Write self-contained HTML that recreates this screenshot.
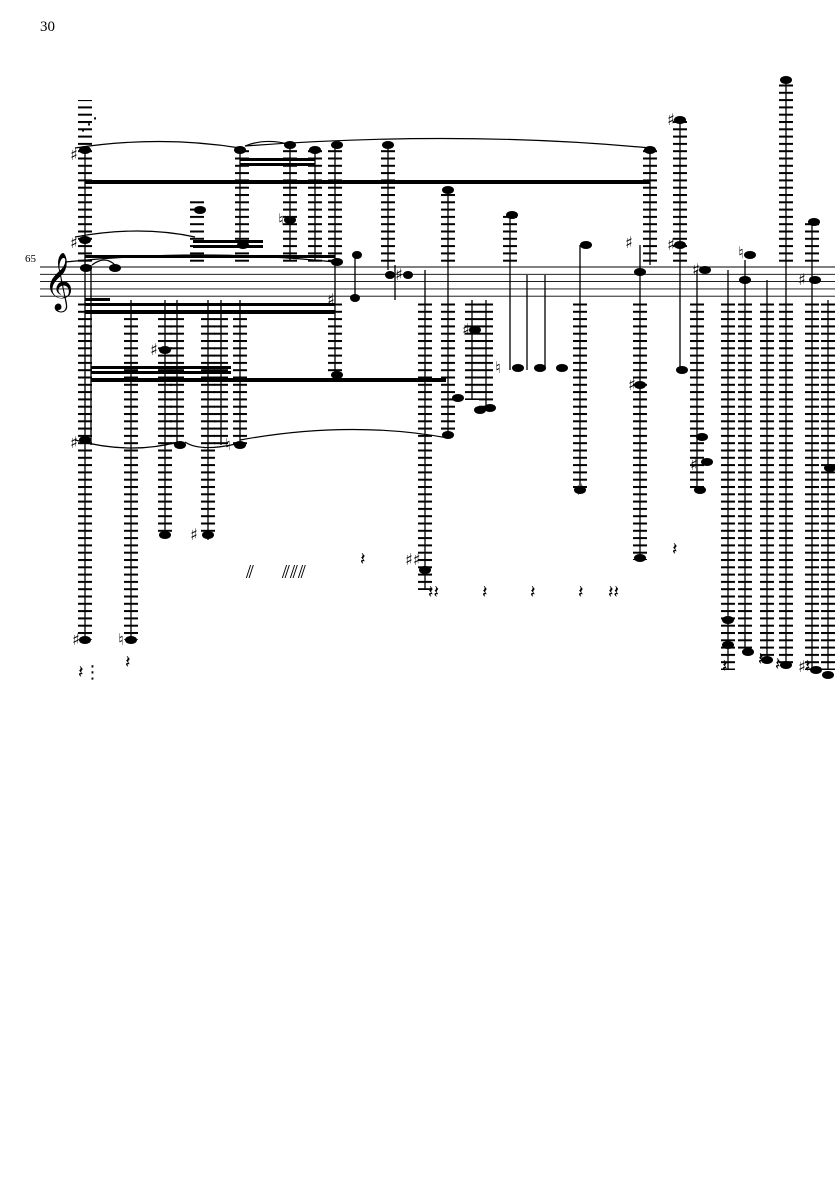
<!DOCTYPE html>
<html><head><meta charset="utf-8"><style>
body{margin:0;background:#fff;width:835px;height:1181px;overflow:hidden;font-family:"Liberation Serif",serif}
</style></head><body>
<svg width="835" height="1181" xmlns="http://www.w3.org/2000/svg">
<defs>
<pattern id="led" x="0" y="267" width="20" height="7.3" patternUnits="userSpaceOnUse">
<rect x="0" y="0" width="20" height="2" fill="#000"/></pattern>
</defs>
<text x="40" y="31" font-size="15">30</text>
<text x="25" y="262" font-size="11">65</text>
<g stroke="#000" stroke-width="0.9">
<line x1="40" y1="267" x2="835" y2="267"/><line x1="40" y1="274.3" x2="835" y2="274.3"/>
<line x1="40" y1="281.6" x2="835" y2="281.6"/><line x1="40" y1="288.9" x2="835" y2="288.9"/>
<line x1="40" y1="296.2" x2="835" y2="296.2"/>
</g>
<text x="44" y="298" font-size="50" font-family="DejaVu Sans">𝄞</text>
<g fill="url(#led)">
<rect x="78" y="100" width="14" height="165"/><rect x="78" y="300" width="14" height="340"/>
<rect x="124" y="300" width="14" height="340"/>
<rect x="158" y="300" width="14" height="235"/><rect x="170" y="300" width="14" height="145"/>
<rect x="201" y="300" width="14" height="235"/><rect x="214" y="300" width="14" height="145"/>
<rect x="233" y="300" width="14" height="145"/>
<rect x="235" y="150" width="14" height="115"/><rect x="283" y="145" width="14" height="120"/>
<rect x="308" y="150" width="14" height="115"/><rect x="328" y="145" width="14" height="120"/>
<rect x="328" y="300" width="14" height="75"/><rect x="381" y="145" width="14" height="120"/>
<rect x="190" y="200" width="14" height="65"/>
<rect x="418" y="300" width="14" height="290"/><rect x="441" y="190" width="14" height="75"/>
<rect x="441" y="300" width="14" height="135"/><rect x="465" y="300" width="14" height="100"/>
<rect x="479" y="300" width="14" height="110"/><rect x="503" y="215" width="14" height="50"/>
<rect x="573" y="300" width="14" height="190"/><rect x="633" y="300" width="14" height="260"/>
<rect x="643" y="150" width="14" height="115"/><rect x="673" y="120" width="14" height="145"/>
<rect x="690" y="300" width="14" height="190"/><rect x="721" y="300" width="14" height="370"/>
<rect x="738" y="300" width="14" height="350"/><rect x="760" y="300" width="14" height="360"/>
<rect x="779" y="80" width="14" height="185"/><rect x="779" y="300" width="14" height="365"/>
<rect x="805" y="220" width="14" height="45"/><rect x="805" y="300" width="14" height="370"/>
<rect x="821" y="300" width="14" height="370"/>
</g>
<g stroke="#000" stroke-width="1.3">
<line x1="85" y1="150" x2="85" y2="640"/><line x1="91" y1="265" x2="91" y2="445"/>
<line x1="131" y1="300" x2="131" y2="640"/><line x1="165" y1="300" x2="165" y2="535"/>
<line x1="177" y1="300" x2="177" y2="445"/><line x1="208" y1="300" x2="208" y2="540"/>
<line x1="221" y1="300" x2="221" y2="445"/><line x1="240" y1="300" x2="240" y2="445"/>
<line x1="240" y1="150" x2="240" y2="245"/><line x1="290" y1="145" x2="290" y2="260"/>
<line x1="315" y1="150" x2="315" y2="260"/><line x1="335" y1="145" x2="335" y2="375"/>
<line x1="388" y1="145" x2="388" y2="270"/><line x1="425" y1="270" x2="425" y2="590"/>
<line x1="448" y1="190" x2="448" y2="435"/><line x1="472" y1="300" x2="472" y2="400"/>
<line x1="486" y1="300" x2="486" y2="410"/><line x1="510" y1="215" x2="510" y2="370"/>
<line x1="527" y1="275" x2="527" y2="370"/><line x1="545" y1="275" x2="545" y2="370"/>
<line x1="580" y1="245" x2="580" y2="490"/><line x1="640" y1="245" x2="640" y2="560"/>
<line x1="650" y1="150" x2="650" y2="265"/><line x1="680" y1="120" x2="680" y2="370"/>
<line x1="697" y1="270" x2="697" y2="490"/><line x1="728" y1="270" x2="728" y2="670"/>
<line x1="745" y1="260" x2="745" y2="650"/><line x1="767" y1="280" x2="767" y2="660"/>
<line x1="786" y1="80" x2="786" y2="665"/><line x1="812" y1="220" x2="812" y2="670"/>
<line x1="828" y1="300" x2="828" y2="670"/>
<line x1="355" y1="255" x2="355" y2="300"/><line x1="395" y1="265" x2="395" y2="300"/>
</g>
<g fill="#000">
<rect x="85" y="180" width="565" height="4"/><rect x="240" y="158" width="75" height="3"/>
<rect x="240" y="163" width="75" height="3"/><rect x="91" y="378" width="355" height="4"/>
<rect x="91" y="371" width="140" height="3"/><rect x="91" y="366" width="140" height="3"/>
<rect x="85" y="310" width="250" height="4"/><rect x="85" y="303" width="250" height="3"/>
<rect x="85" y="298" width="25" height="3"/><rect x="193" y="240" width="70" height="3"/>
<rect x="193" y="245" width="70" height="3"/><rect x="85" y="255" width="250" height="3"/>
<ellipse cx="85" cy="150" rx="6" ry="4"/><ellipse cx="85" cy="240" rx="6" ry="4"/>
<ellipse cx="86" cy="268" rx="6" ry="4"/><ellipse cx="85" cy="440" rx="6" ry="4"/>
<ellipse cx="85" cy="640" rx="6" ry="4"/><ellipse cx="131" cy="640" rx="6" ry="4"/>
<ellipse cx="165" cy="535" rx="6" ry="4"/><ellipse cx="208" cy="535" rx="6" ry="4"/>
<ellipse cx="165" cy="350" rx="6" ry="4"/><ellipse cx="180" cy="445" rx="6" ry="4"/>
<ellipse cx="240" cy="445" rx="6" ry="4"/><ellipse cx="243" cy="245" rx="6" ry="4"/>
<ellipse cx="200" cy="210" rx="6" ry="4"/><ellipse cx="240" cy="150" rx="6" ry="4"/>
<ellipse cx="290" cy="145" rx="6" ry="4"/><ellipse cx="290" cy="220" rx="6" ry="4"/>
<ellipse cx="315" cy="150" rx="6" ry="4"/><ellipse cx="337" cy="145" rx="6" ry="4"/>
<ellipse cx="337" cy="262" rx="6" ry="4"/><ellipse cx="337" cy="375" rx="6" ry="4"/>
<ellipse cx="388" cy="145" rx="6" ry="4"/><ellipse cx="355" cy="298" rx="5" ry="4"/>
<ellipse cx="357" cy="255" rx="5" ry="4"/><ellipse cx="390" cy="275" rx="5" ry="4"/>
<ellipse cx="408" cy="275" rx="5" ry="4"/><ellipse cx="425" cy="570" rx="6" ry="4"/>
<ellipse cx="448" cy="190" rx="6" ry="4"/><ellipse cx="448" cy="435" rx="6" ry="4"/>
<ellipse cx="458" cy="398" rx="6" ry="4"/><ellipse cx="480" cy="410" rx="6" ry="4"/>
<ellipse cx="490" cy="408" rx="6" ry="4"/><ellipse cx="475" cy="330" rx="6" ry="4"/>
<ellipse cx="512" cy="215" rx="6" ry="4"/><ellipse cx="518" cy="368" rx="6" ry="4"/>
<ellipse cx="540" cy="368" rx="6" ry="4"/><ellipse cx="562" cy="368" rx="6" ry="4"/>
<ellipse cx="586" cy="245" rx="6" ry="4"/><ellipse cx="580" cy="490" rx="6" ry="4"/>
<ellipse cx="640" cy="385" rx="6" ry="4"/><ellipse cx="640" cy="558" rx="6" ry="4"/>
<ellipse cx="640" cy="272" rx="6" ry="4"/><ellipse cx="650" cy="150" rx="6" ry="4"/>
<ellipse cx="680" cy="120" rx="6" ry="4"/><ellipse cx="680" cy="245" rx="6" ry="4"/>
<ellipse cx="682" cy="370" rx="6" ry="4"/><ellipse cx="705" cy="270" rx="6" ry="4"/>
<ellipse cx="700" cy="490" rx="6" ry="4"/><ellipse cx="702" cy="437" rx="6" ry="4"/>
<ellipse cx="707" cy="462" rx="6" ry="4"/><ellipse cx="728" cy="645" rx="6" ry="4"/>
<ellipse cx="748" cy="652" rx="6" ry="4"/><ellipse cx="745" cy="280" rx="6" ry="4"/>
<ellipse cx="750" cy="255" rx="6" ry="4"/><ellipse cx="767" cy="660" rx="6" ry="4"/>
<ellipse cx="786" cy="665" rx="6" ry="4"/><ellipse cx="786" cy="80" rx="6" ry="4"/>
<ellipse cx="814" cy="222" rx="6" ry="4"/><ellipse cx="815" cy="280" rx="6" ry="4"/>
<ellipse cx="816" cy="670" rx="6" ry="4"/><ellipse cx="828" cy="675" rx="6" ry="4"/>
<ellipse cx="830" cy="468" rx="6" ry="4"/><ellipse cx="728" cy="620" rx="6" ry="4"/>
<ellipse cx="115" cy="268" rx="6" ry="4"/>
</g>
<g fill="none" stroke="#000" stroke-width="1.2">
<path d="M75 148 Q160 135 240 148"/><path d="M245 146 Q265 138 288 144"/>
<path d="M245 146 Q460 130 650 148"/><path d="M75 237 Q140 225 195 237"/>
<path d="M75 440 Q130 455 178 442"/><path d="M185 442 Q200 452 236 444"/>
<path d="M240 440 Q350 420 448 438"/><path d="M65 262 Q200 248 335 262"/>
<path d="M92 265 Q105 255 115 265"/>
</g>
<g font-size="16" font-family="DejaVu Sans">
<text x="70" y="160">♯</text><text x="70" y="248">♯</text><text x="150" y="355">♯</text>
<text x="70" y="448">♯</text><text x="72" y="645">♯</text><text x="118" y="645">♮</text>
<text x="190" y="540">♯</text><text x="225" y="450">♮</text><text x="327" y="305">♯</text>
<text x="395" y="280">♯</text><text x="405" y="565">♯♯</text><text x="462" y="335">♯</text>
<text x="576" y="495">♯</text><text x="628" y="390">♯</text><text x="667" y="125">♯</text>
<text x="667" y="250">♯</text><text x="690" y="470">♯</text><text x="692" y="275">♯</text>
<text x="738" y="258">♮</text><text x="798" y="285">♯</text><text x="798" y="672">♯</text>
<text x="495" y="373">♮</text><text x="625" y="248">♯</text><text x="278" y="225">♮</text>
</g>
<g font-size="18" font-family="DejaVu Sans">
<text x="125" y="668">𝄽</text><text x="360" y="565">𝄽</text><text x="428" y="598">𝄽𝄽</text>
<text x="482" y="598">𝄽</text><text x="530" y="598">𝄽</text><text x="578" y="598">𝄽</text>
<text x="608" y="598">𝄽𝄽</text><text x="672" y="555">𝄽</text><text x="722" y="672">𝄽</text>
<text x="758" y="665">𝄽</text><text x="775" y="670">𝄽</text><text x="805" y="672">𝄽</text>
<text x="78" y="678">𝄽⋮</text><text x="80" y="130">⋰</text>
<text x="246" y="578">⫽</text><text x="282" y="578">⫽⫽⫽</text>
</g>
</svg>
</body></html>
